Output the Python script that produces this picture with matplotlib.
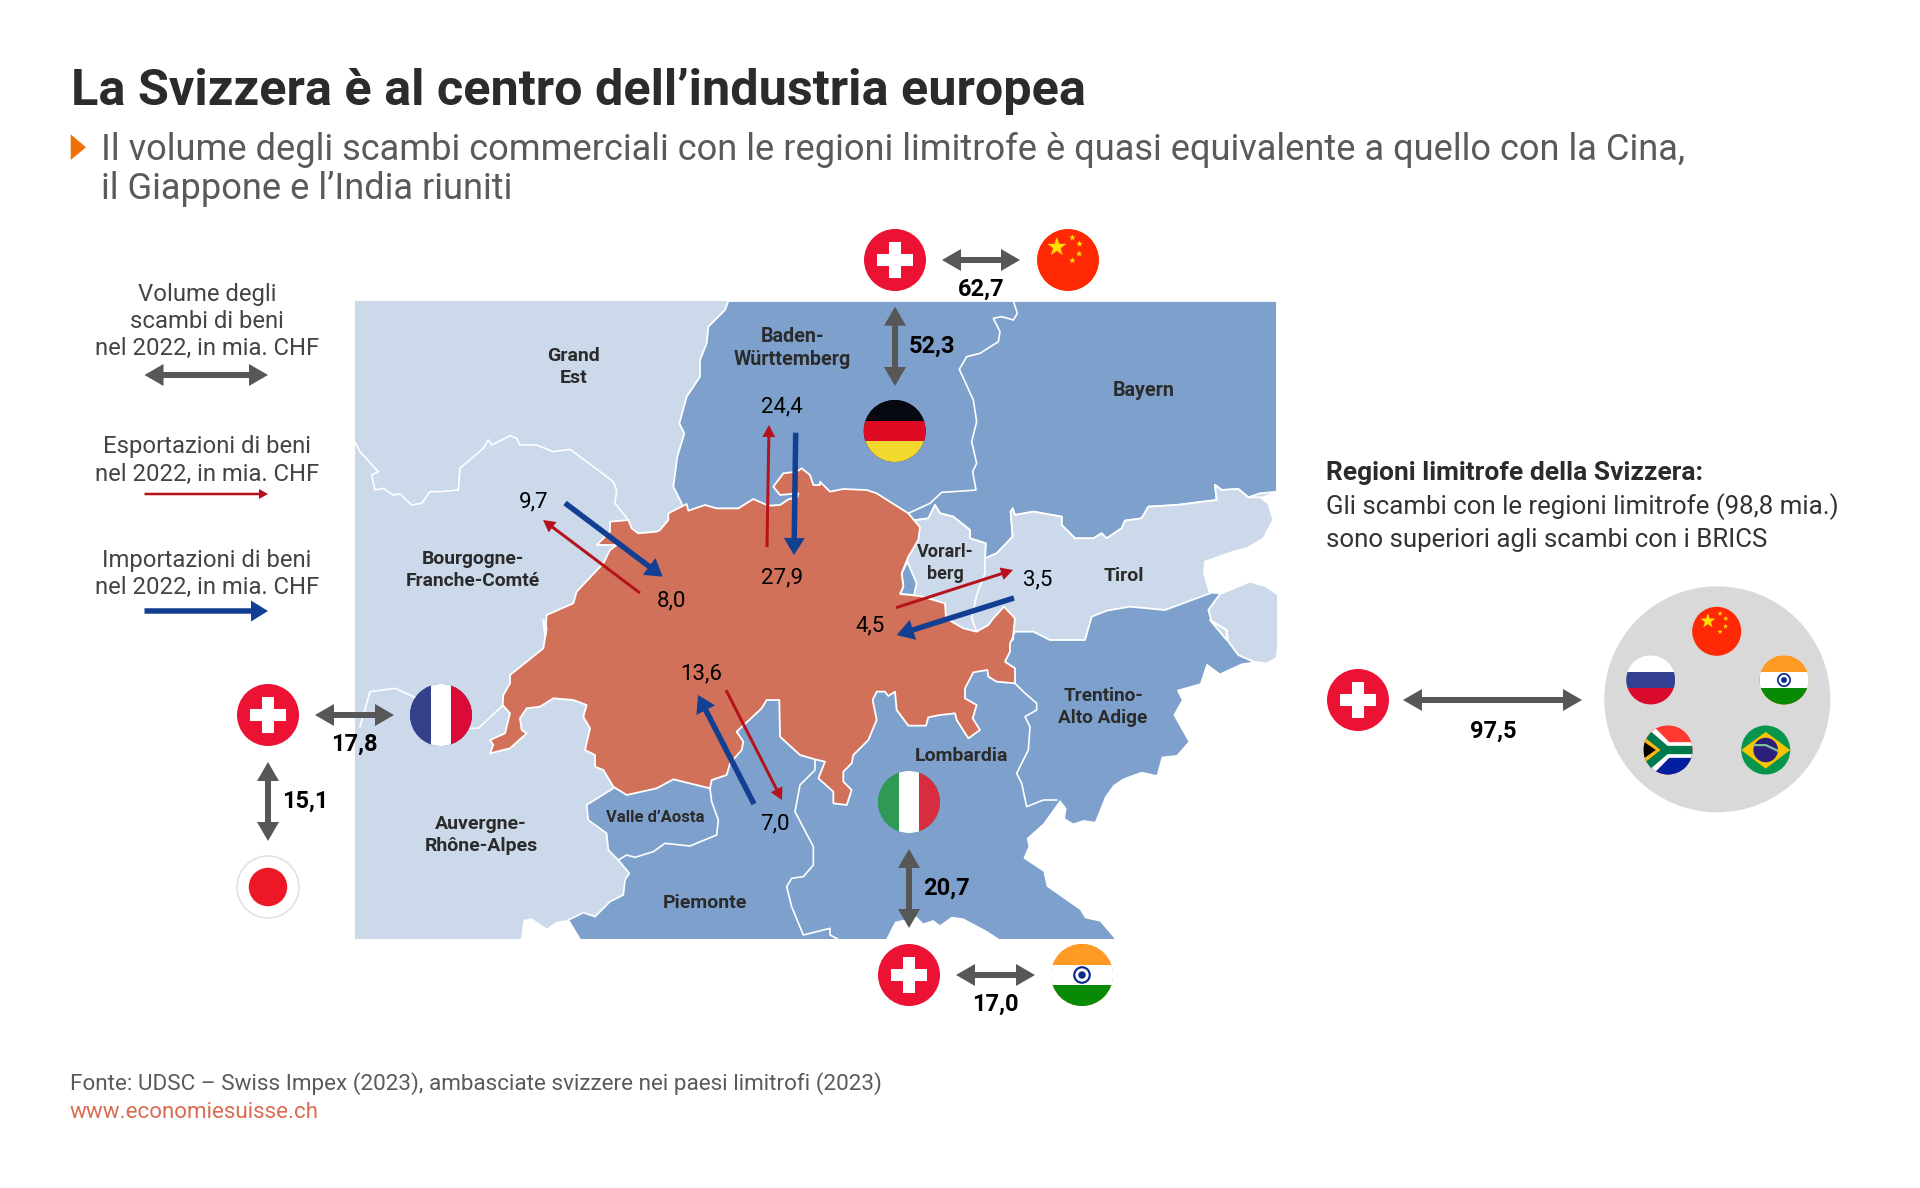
import numpy as np
import matplotlib
matplotlib.use("Agg")
import matplotlib.pyplot as plt
from matplotlib.patches import Polygon, Circle, Rectangle

plt.rcParams['font.family'] = ['Roboto', 'DejaVu Sans']

# ---------------- content ----------------
TITLE = "La Svizzera è al centro dell’industria europea"
SUB1 = "Il volume degli scambi commerciali con le regioni limitrofe è quasi equivalente a quello con la Cina,"
SUB2 = "il Giappone e l’India riuniti"
SOURCE = "Fonte: UDSC – Swiss Impex (2023), ambasciate svizzere nei paesi limitrofi (2023)"
LINK = "www.economiesuisse.ch"
legend_volume = ["Volume degli", "scambi di beni", "nel 2022, in mia. CHF"]
legend_export = ["Esportazioni di beni", "nel 2022, in mia. CHF"]
legend_import = ["Importazioni di beni", "nel 2022, in mia. CHF"]
brics_head = "Regioni limitrofe della Svizzera:"
brics_text = ["Gli scambi con le regioni limitrofe (98,8 mia.)", "sono superiori agli scambi con i BRICS"]

region_names = ["Grand\nEst", "Baden-\nWürttemberg", "Bayern", "Bourgogne-\nFranche-Comté", "Vorarl-\nberg",
                "Tirol", "Trentino-\nAlto Adige", "Lombardia", "Auvergne-\nRhône-Alpes", "Valle d’Aosta", "Piemonte"]
country_totals = ["62,7", "52,3", "20,7", "17,0", "17,8", "15,1", "97,5"]
export_values = ["9,7", "24,4", "3,5", "7,0"]
import_values = ["8,0", "27,9", "4,5", "13,6"]

# ---------------- geometry ----------------
MAP_L, MAP_R, MAP_T, MAP_B = 355, 1277, 301, 939
C_LIGHT, C_DARK, C_CH = "#CBD9EA", "#7DA1CC", "#D27159"
C_RED, C_BLUE, C_GREY, C_TXT, C_SUB = "#B5121B", "#133F92", "#575757", "#2B2B2B", "#5A5A5A"


def z1(p): return [(340 + x / 3, 290 + y / 3) for x, y in p]
def z2(p): return [(820 + x / 3, 290 + y / 3) for x, y in p]
def z3(p): return [(340 + x / 3, 620 + y / 3) for x, y in p]
def z4(p): return [(780 + x / 3, 620 + y / 3) for x, y in p]


swiss = (
    z1([(960,720),(985,690),(985,670),(1040,642),(1045,662),(1095,645),(1130,655),(1195,655),(1240,627),(1285,647),
        (1320,645),(1345,628),(1372,622),(1375,610),(1320,615),(1300,590),(1330,550),(1370,545),(1385,535),(1410,555),
        (1420,585),(1440,585)])
    + z2([(0,575),(30,605),(70,597),(140,600),(170,610),(265,670),(300,712),(295,750),(265,800),(245,850),(250,890),
          (240,912),(300,918),(375,940),(378,985),(430,1015),(470,1025),(505,1005),(520,985),(552,950),(585,985),(578,1050)])
    + z4([(700,50),(690,70),(690,95),(675,125),(705,145),(705,190),(650,185),(625,170),(622,150),(580,157),(555,205),
          (555,235),(590,255),(578,295),(600,330),(565,355),(530,300),(525,280),(480,285),(445,292),(438,317),(385,317),
          (350,270),(345,215),(325,228),(315,215),(290,215),(278,240),(290,300),(265,360),(220,405),(215,430),(190,455),
          (190,485),(215,510),(200,555),(160,550),(160,515),(115,475),(135,425),(105,418),(60,405),(0,350)])
    + z3([(1318,240),(1280,240),(1265,265),(1190,335),(1210,365),(1205,390),(1170,430),(1160,465),(1115,480),(1110,505),
          (1000,478),(950,505),(860,525),(820,500),(790,450),(765,440),(765,405),(735,390),(750,325),(730,290),(740,255),
          (700,240),(640,235),(600,260),(560,265),(540,295),(545,330),(560,340),(510,385),(450,400),(460,375),(450,360),
          (495,340),(510,280),(488,255),(490,225),(510,190),(510,165),(610,85),(620,25),(610,0)])
    + z1([(615,1040),(620,975),(700,940),(710,905),(790,820),(810,780),(830,765),(770,765),(810,725),(810,695),(865,690),
          (875,715),(895,730),(950,725)])
)

germany = (
    z1([(1165,33)]) + z2([(1371,33),(1371,605),(1320,610),(1285,622),(1255,597),(1205,600),(1185,585),(1190,630),(1070,645),
        (985,650),(965,685),(915,692),(905,715),(860,745),(845,730),(820,745),(765,745),(725,705),(725,680),(640,665),
        (585,675),(578,655),(572,665),(578,740),(530,790),(495,805),(497,760),(450,745),(450,720),(400,680),(360,670),
        (345,645),(325,685),(275,692),(265,670),(200,700)])
    + z1([(1040,700),(1025,640),(1000,590),(1012,500),(1033,430),(1018,400),(1040,320),(1080,260),(1080,210),(1100,160),
          (1105,110),(1155,60)])
)
austria = (
    z2([(265,670),(275,692),(325,685),(345,645),(360,670),(400,680),(450,720),(450,745),(497,760),(495,805),(530,790),
        (578,740),(572,665),(578,655),(585,675),(640,665),(725,680),(725,705),(765,745),(820,745),(845,730),(860,745),
        (905,715),(915,692),(965,685),(985,650),(1070,645),(1190,630),(1185,585),(1205,600),(1255,597),(1285,622),(1320,622),
        (1345,640),(1360,690),(1330,745),(1280,775),(1240,785),(1155,815),(1152,850),(1170,910),(1035,960),(930,950),(860,962),
        (815,980),(795,1050),(690,1050),(640,1025),(585,1025),(575,1045),(470,1045),(378,1005),(300,935),(230,925),(240,800)])
)
east_blob = (
    z2([(1200,912),(1290,875),(1340,890),(1375,915),(1375,1060)])
    + z4([(1490,115),(1460,130),(1420,125),(1375,105),(1345,65),(1340,30),(1290,0)])
    + z2([(1220,1050),(1220,1020),(1175,995),(1165,960)])
)
bodensee = z2([(262,815),(290,880),(282,915),(240,912),(250,890),(245,850)])
coast_e = z4([(1420,125),(1385,130),(1320,160),(1280,130),(1260,190),(1190,210),(1205,240),(1180,285),(1225,365),(1190,405),
              (1145,410),(1130,465),(1085,455),(1030,475),(1000,495),(975,530),(945,605),(910,600),(880,610),(855,595),
              (860,565),(840,540),(790,610),(740,655),(745,680),(730,715),(790,755),(800,800),(900,870),(915,895),(960,905),(1005,958)])
notch_s = z4([(660,958),(620,932),(550,895),(515,890),(480,915),(460,900),(430,910),(410,890),(345,905),(318,958)])
west_it = z3([(720,958),(685,900),(730,878),(765,890),(810,845),(850,825),(855,780),(868,760),(835,720),(805,690),(800,640),
              (745,600),(740,555),(820,505)])
italy = (
    coast_e + notch_s + west_it + z2([(300,900),(585,1025),(640,1025),(690,1050),(795,1050),(815,980),(860,962),(930,950),
                                     (1035,960),(1170,910),(1200,912),(1165,960),(1175,995),(1220,1020),(1220,1050)])
    + z4([(1290,0),(1340,30),(1345,65),(1375,105)])
)
sea_e = (z2([(1320,622),(1345,640),(1360,690),(1330,745),(1280,775),(1240,785),(1155,815),(1152,850),(1170,910),(1200,912),
             (1290,875),(1340,890),(1371,915),(1380,600)]))
sea_se = coast_e + z4([(1510,958),(1510,115),(1490,115),(1460,130)])
sea_sw = z3([(542,965),(550,900),(575,895),(620,925),(650,905),(685,900),(725,965)])
sea_s = notch_s

borders = [
    west_it,
    z1([(44,455),(60,485),(115,545),(95,555),(105,600),(130,595),(160,615),(180,612),(215,645),(245,640),(270,605),(300,605),
        (355,600),(360,535),(430,475),(445,450),(455,465),(510,437),(530,445),(540,465),(590,465),(640,485),(690,478),(720,500),
        (820,575),(830,600),(825,640),(865,690)]),
    z3([(60,320),(90,215),(165,205),(220,230),(390,325),(415,325),(490,255)]),
    z3([(835,720),(860,705),(885,712),(940,695),(975,670),(1050,678),(1130,645),(1135,600),(1115,545),(1110,505)]),
    z4([(105,420),(105,450),(60,495),(45,575),(100,680),(100,735),(70,770),(35,775),(20,800),(35,860),(70,945),(130,930),
        (150,925),(150,945),(175,958)]),
    z4([(705,190),(730,215),(770,250),(770,270),(735,290),(750,320),(745,390),(710,460),(725,490),(740,560),(790,540),(830,540)]),
    z2([(580,33),(592,70),(580,90),(545,80),(520,85),(540,125),(535,155),(480,190),(440,200),(418,238),(460,330),(470,395),
        (455,455),(470,520),(458,545),(468,600),(430,603),(365,607),(330,640),(265,670)]),
    z2([(495,805),(495,850),(470,915),(455,985),(470,1025)]),
]

fig = plt.figure(figsize=(19.2, 11.88), dpi=100, facecolor="white")
ax = fig.add_axes([0, 0, 1, 1])
ax.set_xlim(0, 1920)
ax.set_ylim(1188, 0)
ax.axis("off")

map_clip = Rectangle((MAP_L, MAP_T), MAP_R - MAP_L, MAP_B - MAP_T, transform=ax.transData)


def land(pts, color, z, lw=1.3, edge="white"):
    p = Polygon(pts, closed=True, facecolor=color, edgecolor=edge if lw else "none", lw=lw, zorder=z, joinstyle="round")
    ax.add_patch(p)
    p.set_clip_path(map_clip)
    return p


ax.add_patch(Rectangle((MAP_L, MAP_T), MAP_R - MAP_L, MAP_B - MAP_T, facecolor=C_LIGHT, edgecolor="none", zorder=1))
land(germany, C_DARK, 2)
land(italy, C_DARK, 2, lw=0)
land(austria, C_LIGHT, 3)
land(east_blob, C_LIGHT, 3)
land(sea_e, "white", 4, lw=0)
land(sea_se, "white", 1.5, lw=0)
land(sea_sw, "white", 1.5, lw=0)
land(sea_s, "white", 1.5, lw=0)
land(bodensee, C_DARK, 4)
for b in borders:
    ln, = ax.plot(*zip(*b), color="white", lw=1.2, zorder=4.5, solid_joinstyle="round")
    ln.set_clip_path(map_clip)
land(swiss, C_CH, 5)


def arrow(p0, p1, color, shaft, hw, hl, double=False, z=8):
    p0, p1 = np.array(p0, float), np.array(p1, float)
    d = p1 - p0
    L = np.hypot(*d)
    u = d / L
    n = np.array([-u[1], u[0]])
    base = p1 - u * hl
    if double:
        base0 = p0 + u * hl
        pts = [p0, base0 + n * hw / 2, base0 + n * shaft / 2, base + n * shaft / 2, base + n * hw / 2, p1,
               base - n * hw / 2, base - n * shaft / 2, base0 - n * shaft / 2, base0 - n * hw / 2]
    else:
        pts = [p0 + n * shaft / 2, base + n * shaft / 2, base + n * hw / 2, p1, base - n * hw / 2, base - n * shaft / 2,
               p0 - n * shaft / 2]
    ax.add_patch(Polygon(pts, closed=True, facecolor=color, edgecolor="none", zorder=z))


def red(a, b): arrow(a, b, C_RED, 3, 13, 12)
def blue(a, b): arrow(a, b, C_BLUE, 5.5, 21, 17)
def grey(a, b): arrow(a, b, C_GREY, 6, 22, 19, double=True)


# ---------------- flags ----------------
def disc(cx, cy, r, color, z=9):
    c = Circle((cx, cy), r, facecolor=color, edgecolor="none", zorder=z)
    ax.add_patch(c)
    return c


def bands(cx, cy, r, colors, vertical=False):
    clip = disc(cx, cy, r, colors[0])
    n = len(colors)
    for i, col in enumerate(colors):
        if vertical:
            rec = Rectangle((cx - r + 2 * r * i / n, cy - r), 2 * r / n, 2 * r, facecolor=col, edgecolor="none", zorder=9.1)
        else:
            rec = Rectangle((cx - r, cy - r + 2 * r * i / n), 2 * r, 2 * r / n, facecolor=col, edgecolor="none", zorder=9.1)
        ax.add_patch(rec)
        rec.set_clip_path(clip)
    return clip


def star(cx, cy, R, color="#FFDE00", z=9.5):
    a = np.arange(10) * np.pi / 5 - np.pi / 2
    rad = np.where(np.arange(10) % 2 == 0, R, R * .4)
    ax.add_patch(Polygon(np.c_[cx + rad * np.cos(a), cy + rad * np.sin(a)], closed=True, facecolor=color, edgecolor="none", zorder=z))


def f_ch(cx, cy, r=31):
    disc(cx, cy, r, "#EC1234")
    s, t = r * .58, r * .19
    ax.add_patch(Rectangle((cx - s, cy - t), 2 * s, 2 * t, facecolor="white", edgecolor="none", zorder=9.5))
    ax.add_patch(Rectangle((cx - t, cy - s), 2 * t, 2 * s, facecolor="white", edgecolor="none", zorder=9.5))


def f_cn(cx, cy, r=31):
    disc(cx, cy, r, "#FF2A05")
    star(cx - r * .36, cy - r * .42, r * .32)
    for dx, dy in [(.14, -.72), (.37, -.52), (.36, -.2), (.14, 0.02)]:
        star(cx + dx * r, cy + dy * r, r * .11)


def f_de(cx, cy, r=31): bands(cx, cy, r, ["#06090F", "#DF0B24", "#F3D92E"])
def f_it(cx, cy, r=31): bands(cx, cy, r, ["#2E9A55", "#FFFFFF", "#D62D3F"], True)
def f_fr(cx, cy, r=31): bands(cx, cy, r, ["#34408A", "#FFFFFF", "#DC0A36"], True)
def f_ru(cx, cy, r=24.5): bands(cx, cy, r, ["#FFFFFF", "#343F91", "#D90A2E"])


def f_in(cx, cy, r=31):
    bands(cx, cy, r, ["#FF9A24", "#FFFFFF", "#078A06"])
    ax.add_patch(Circle((cx, cy), r * .25, facecolor="white", edgecolor="#0B2A8F", lw=r * .05, zorder=9.5))
    disc(cx, cy, r * .12, "#0B2A8F", z=9.6)


def f_jp(cx, cy, r=31):
    ax.add_patch(Circle((cx, cy), r, facecolor="white", edgecolor="#DCDCE6", lw=1, zorder=9))
    disc(cx, cy, r * .62, "#EC1826", z=9.2)


def f_za(cx, cy, r=24.5):
    clip = bands(cx, cy, r, ["#FF3830", "#00209F"])
    def q(pts, col, z):
        p = Polygon([(cx + x * r, cy + y * r) for x, y in pts], closed=True, facecolor=col, edgecolor="none", zorder=z)
        ax.add_patch(p)
        p.set_clip_path(clip)
    q([(-1, -1), (-.62, -1), (.05, -.32), (1, -.32), (1, .32), (.05, .32), (-.62, 1), (-1, 1)], "white", 9.2)
    q([(-1, -.8), (-.75, -.8), (-.02, -.17), (1, -.17), (1, .17), (-.02, .17), (-.75, .8), (-1, .8)], "#007A4D", 9.3)
    q([(-1, -.55), (-.3, 0), (-1, .55)], "#FFB612", 9.4)
    q([(-1, -.35), (-.5, 0), (-1, .35)], "black", 9.5)


def f_br(cx, cy, r=24.5):
    clip = disc(cx, cy, r, "#07964B")
    ax.add_patch(Polygon([(cx - r, cy), (cx, cy - r * .74), (cx + r, cy), (cx, cy + r * .76)], closed=True,
                         facecolor="#F8C300", edgecolor="none", zorder=9.2)).set_clip_path(clip)
    disc(cx, cy, r * .5, "#2A1F7A", z=9.3)
    ax.plot([cx - r * .45, cx, cx + r * .47], [cy - r * .2, cy - r * .2, cy + r * .02], color="#7FBF9A", lw=1.6, zorder=9.4)


f_ch(895, 260); f_cn(1068, 260); f_de(894.7, 431)
f_it(909, 802); f_ch(909, 975); f_in(1082, 975)
f_fr(441, 715); f_ch(268, 715); f_jp(268, 887)
f_ch(1358, 700)

disc(1717.3, 699.3, 113, "#D9D9D9", z=8.5)
f_cn(1716.7, 631.3, 24.5); f_ru(1650.7, 680); f_in(1784, 680, 24.5); f_za(1668, 750); f_br(1765.7, 750)

# ---------------- arrows ----------------
grey((942, 260), (1020, 260))
grey((895, 306.7), (895, 386))
grey((909, 849), (909, 928))
grey((956, 975), (1035, 975))
grey((315, 715), (394, 715))
grey((268, 762), (268, 841))
grey((1403, 700), (1582, 700))
grey((144.5, 375), (268, 375))
arrow((144.5, 494), (268, 494), C_RED, 2.5, 10, 9)
blue((144.5, 611), (268, 611))

red((640, 593), (543, 520)); blue((565, 503), (662.7, 576.7))
red((767, 547), (769, 425)); blue((795.7, 432.7), (794, 555))
red((896, 607.7), (1013, 570)); blue((1014, 598), (896.7, 635))
red((726, 690), (782, 800)); blue((754, 804), (698, 695))

# ---------------- text ----------------
def t(x, y, s, size, weight="normal", color=C_TXT, ha="center", va="center", z=10, **kw):
    return ax.text(x, y, s, fontsize=size, fontweight=weight, color=color, ha=ha, va=va, zorder=z, **kw)


t(71, 105, TITLE, 36.3, "bold", ha="left", va="baseline")
ax.add_patch(Polygon([(70.7, 134.3), (70.7, 160), (86, 147.3)], closed=True, facecolor="#EE7203", edgecolor="none"))
t(101, 160, SUB1, 26.15, color=C_SUB, ha="left", va="baseline")
t(101, 199, SUB2, 26.15, color=C_SUB, ha="left", va="baseline")
t(70, 1084, SOURCE, 16.2, color=C_SUB, ha="left")
t(70, 1112, LINK, 16.1, color="#D96C52", ha="left")

for s, y in zip(legend_volume, (294, 321, 348)):
    t(207, y, s, 17.2, color="#444444")
for s, y in zip(legend_export, (446, 474)):
    t(207, y, s, 17.2, color="#444444")
for s, y in zip(legend_import, (560, 587)):
    t(207, y, s, 17.2, color="#444444")

t(1326, 473, brics_head, 19, "bold", ha="left")
for s, y in zip(brics_text, (507, 540)):
    t(1326, y, s, 18.6, color="#333333", ha="left")

region_xy = [(574, 367), (792, 348), (1144, 390), (473, 570), (945, 563), (1124, 576), (1103, 707), (961, 756),
             (481, 835), (655, 818), (705, 903)]
region_sizes = [14, 14.2, 14.2, 13.9, 13, 14, 13.7, 14, 14, 12, 14]
for s, (x, y), fs in zip(region_names, region_xy, region_sizes):
    t(x, y, s, fs, "bold", linespacing=1.3)

total_xy = [(981, 289), (932, 346), (947, 888), (995, 1004), (354, 744), (305, 801), (1493, 731)]
for s, (x, y) in zip(country_totals, total_xy):
    t(x, y, s, 17, "bold", color="black")

for s, (x, y) in zip(export_values, [(534, 502), (782, 407), (1038, 580), (775, 824)]):
    t(x, y, s, 16, color="black")
for s, (x, y) in zip(import_values, [(671, 601), (782, 578), (870, 626), (701, 674)]):
    t(x, y, s, 16, color="black")

fig.savefig("out.png", dpi=100, facecolor="white")
